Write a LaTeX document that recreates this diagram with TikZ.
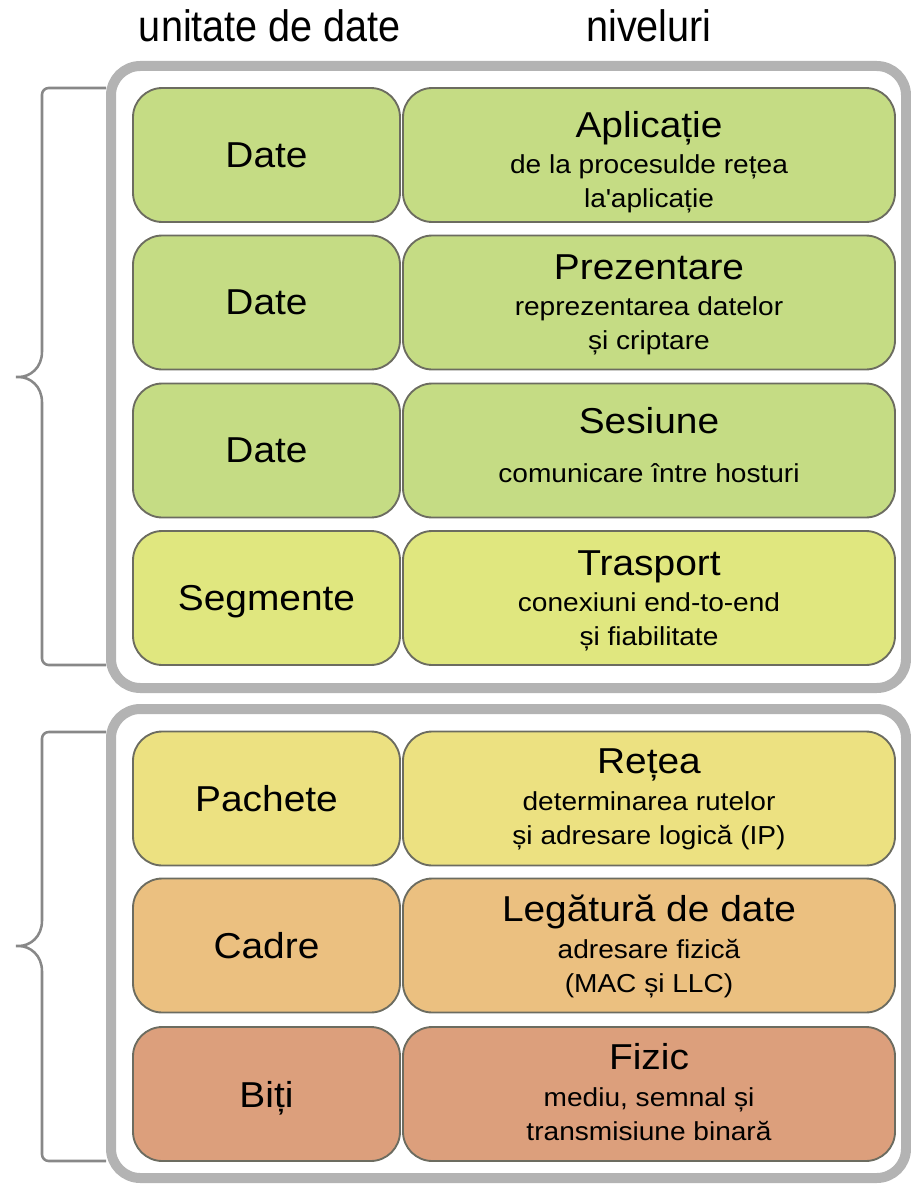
\documentclass[tikz,border=0pt]{standalone}
\usepackage{fontspec}
\setmainfont{Liberation Sans}[FakeStretch=1.08]
\newfontfamily\headfont{Liberation Sans}[FakeStretch=0.9]
\usepackage{tikz}

\newcommand{\laytitle}{\fontsize{27}{32}\selectfont}
\newcommand{\laysub}{\fontsize{19.5}{26}\selectfont}
\newcommand{\subl}[2]{\begin{tabular}[t]{@{}c@{}}#1\\#2\end{tabular}}

\begin{document}
\begin{tikzpicture}[x=0.75pt,y=0.75pt,yscale=-1,xscale=1,
  frame/.style={draw={rgb, 255:red, 179; green, 179; blue, 179 }, line width=7.5, rounded corners=22},
  brace/.style={draw={rgb, 255:red, 136; green, 136; blue, 136 }, line width=1.9, rounded corners=5},
  cell/.style={draw={rgb, 255:red, 108; green, 108; blue, 96 }, line width=1.4, rounded corners=22, inner sep=0.75pt},
  unitcell/.style={cell, minimum width=200.25pt, minimum height=100.5pt, font=\laytitle, text depth=0pt},
  layercell/.style={cell, minimum width=369pt, minimum height=100.5pt},
  header/.style={inner sep=0.75pt, anchor=base, font=\headfont\fontsize{33}{40}\selectfont},
  laytext/.style={inner sep=0.75pt, anchor=base, font=\laytitle},
  subtext/.style={inner sep=0.75pt, anchor=base, font=\laysub},
  greenfill/.style={fill={rgb, 255:red, 197; green, 220; blue, 132 }},
  limefill/.style={fill={rgb, 255:red, 224; green, 231; blue, 127 }},
  yellowfill/.style={fill={rgb, 255:red, 236; green, 225; blue, 129 }},
  orangefill/.style={fill={rgb, 255:red, 235; green, 192; blue, 128 }},
  redfill/.style={fill={rgb, 255:red, 220; green, 159; blue, 124 }}
]
\useasboundingbox (0,0) rectangle (910,1184);

% column headers
\draw (270,42) node [header] (hunit) {unitate de date};
\draw (649,42) node [header] (hlayer) {niveluri};

% the two groups
\draw [frame] (111,66) rectangle (906,688);
\draw [frame] (111,709) rectangle (906,1178);

% braces
\draw [brace] (106,88) -- (42,88) -- (42,345) .. controls (42,368) and (30,377) .. (12,377) .. controls (30,377) and (42,386) .. (42,409) -- (42,665) -- (106,665);
\draw [brace] (106,732) -- (42,732) -- (42,914) .. controls (42,937) and (30,946) .. (12,946) .. controls (30,946) and (42,955) .. (42,978) -- (42,1161) -- (106,1161);

% upper layers
\node [unitcell, greenfill] (u7) at (266.5,155) {Date};
\node [layercell, greenfill] (l7) at (649,155) {};
\draw (649,138) node [laytext] (t7) {Aplicație};
\draw (649,173) node [subtext] (s7) {\subl{de la procesulde rețea}{la\textquotesingle aplicație}};

\node [unitcell, greenfill] (u6) at (266.5,302.5) {Date};
\node [layercell, greenfill] (l6) at (649,302.5) {};
\draw (649,279) node [laytext] (t6) {Prezentare};
\draw (649,315) node [subtext] (s6) {\subl{reprezentarea datelor}{și criptare}};

\node [unitcell, greenfill] (u5) at (266.5,450.5) {Date};
\node [layercell, greenfill] (l5) at (649,450.5) {};
\draw (649,433) node [laytext] (t5) {Sesiune};
\draw (649,482) node [subtext] (s5) {comunicare între hosturi};

\node [unitcell, limefill] (u4) at (266.5,598) {Segmente};
\node [layercell, limefill] (l4) at (649,598) {};
\draw (649,575) node [laytext] (t4) {Trasport};
\draw (649,611) node [subtext] (s4) {\subl{conexiuni end-to-end}{și fiabilitate}};

% lower layers
\node [unitcell, yellowfill] (u3) at (266.5,798.5) {Pachete};
\node [layercell, yellowfill] (l3) at (649,798.5) {};
\draw (649,773) node [laytext] (t3) {Rețea};
\draw (649,810) node [subtext] (s3) {\subl{determinarea rutelor}{și adresare logică (IP)}};

\node [unitcell, orangefill] (u2) at (266.5,945.5) {Cadre};
\node [layercell, orangefill] (l2) at (649,945.5) {};
\draw (649,921) node [laytext] (t2) {Legătură de date};
\draw (649,958) node [subtext] (s2) {\subl{adresare fizică}{(MAC și LLC)}};

\node [unitcell, redfill] (u1) at (266.5,1094) {Biți};
\node [layercell, redfill] (l1) at (649,1094) {};
\draw (649,1069) node [laytext] (t1) {Fizic};
\draw (649,1106) node [subtext] (s1) {\subl{mediu, semnal și}{transmisiune binară}};
\end{tikzpicture}
\end{document}
